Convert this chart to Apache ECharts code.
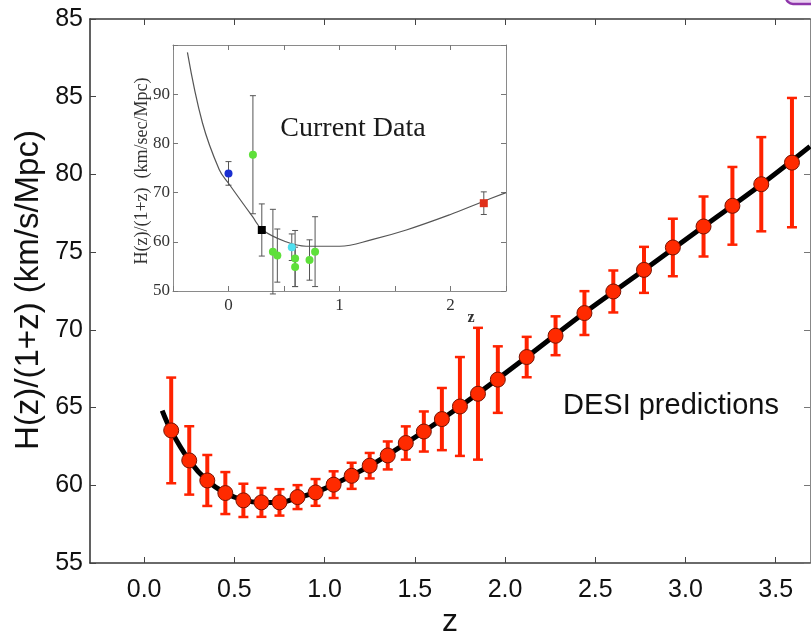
<!DOCTYPE html>
<html>
<head>
<meta charset="utf-8">
<script src="https://cdn.jsdelivr.net/npm/echarts@6.0.0/dist/echarts.min.js"></script>
<style>
html,body{margin:0;padding:0;background:#fff;}
#c{width:811px;height:639px;}
</style>
</head>
<body>
<div id="c"></div>
<script>
// ---- main panel: DESI predictions ----
const predZ = [0.15,0.25,0.35,0.45,0.55,0.65,0.75,0.85,0.95,1.05,1.15,1.25,1.35,1.45,1.55,1.65,1.75,1.85,1.96,2.12,2.28,2.44,2.60,2.77,2.93,3.10,3.26,3.42,3.59];
const predH = [63.53,61.6,60.31,59.5,59.03,58.9,58.9,59.24,59.54,60.04,60.61,61.26,61.92,62.72,63.46,64.26,65.07,65.89,66.8,68.25,69.62,71.08,72.47,73.86,75.3,76.65,77.98,79.37,80.76];
const predErr = [3.4,2.2,1.64,1.35,1.07,0.93,0.85,0.77,0.86,0.86,0.84,0.82,0.9,1.07,1.29,2.0,3.18,4.24,2.14,1.3,1.25,1.41,1.35,1.48,1.85,1.93,2.5,3.03,4.16];
const curveZ = [0.10,0.15,0.25,0.35,0.45,0.55,0.65,0.75,0.85,0.95,1.05,1.25,1.45,1.65,1.85,2.12,2.44,2.77,3.10,3.42,3.69];
const curveH = [64.8,63.5,61.6,60.3,59.5,59.05,58.9,58.9,59.2,59.55,60.05,61.25,62.7,64.25,65.9,68.25,71.1,73.85,76.65,79.35,81.8];
const xTickValues = [0,0.5,1,1.5,2,2.5,3,3.5];
const xTickLabels = ['0.0','0.5','1.0','1.5','2.0','2.5','3.0','3.5'];
const yTickValues = [55,60,65,70,75,80,85,90];
const yTickLabels = ['55','60','65','70','75','80','85','85'];

// ---- inset: Current Data ----
const blueZ = [0.0],  blueH = [73.9],  blueErr = [2.4];
const greenZ = [0.22,0.40,0.44,0.60,0.60,0.73,0.78];
const greenH = [77.7,58.0,57.2,56.6,54.9,56.3,58.0];
const greenErr = [12.0,8.6,5.4,5.7,4.0,4.1,7.1];
const cyanZ = [0.57], cyanH = [58.9], cyanErr = [2.7];
const blackZ = [0.30], blackH = [62.4], blackErr = [5.3];
const redZ = [2.30], redH = [67.85], redErr = [2.3];
const insetCurveZ = [-0.37,-0.235,-0.084,0.0,0.217,0.307,0.518,0.699,1.0,1.301,1.602,1.994,2.295,2.5];
const insetCurveH = [98.5,84.2,74.7,71.9,65.1,62.4,60.0,59.1,59.1,60.5,62.4,65.5,68.2,70.0];
const insetXTickValues = [-0.5,0,0.5,1,1.5,2,2.5];
const insetXTickLabels = ['','0','','1','','2',''];
const insetYTickValues = [50,60,70,80,90,100];
const insetYTickLabels = ['50','60','70','80','90',''];

const zip2 = (a,b) => a.map((v,i)=>[v,b[i]]);
const zip3 = (a,b,c) => a.map((v,i)=>[v,b[i],c[i]]);

function errRender(color, lw, capW, capLw){
  return function(params, api){
    const x = api.value(0), y = api.value(1), e = api.value(2);
    const t = api.coord([x, y + e]);
    const b = api.coord([x, y - e]);
    return {type:'group', children:[
      {type:'line', shape:{x1:t[0],y1:t[1],x2:b[0],y2:b[1]}, style:{stroke:color,lineWidth:lw}},
      {type:'line', shape:{x1:t[0]-capW/2,y1:t[1],x2:t[0]+capW/2,y2:t[1]}, style:{stroke:color,lineWidth:capLw}},
      {type:'line', shape:{x1:b[0]-capW/2,y1:b[1],x2:b[0]+capW/2,y2:b[1]}, style:{stroke:color,lineWidth:capLw}}
    ]};
  };
}

const chart = echarts.init(document.getElementById('c'), null, {renderer:'canvas'});
const sans = 'Liberation Sans, Arial, sans-serif';
const serif = 'Liberation Serif, Times New Roman, serif';
const mainLine = {show:true, onZero:false, lineStyle:{color:'#3a3a3a', width:1.6}};
const insetLine = {show:true, onZero:false, lineStyle:{color:'#8a8a8a', width:1}};

const option = {
  backgroundColor:'#ffffff',
  animation:false,
  grid:[
    {left:90, top:19, right:1, bottom:76},
    {left:173, top:45, width:333, height:246}
  ],
  xAxis:[
    {gridIndex:0, type:'value', min:-0.3, max:3.69, position:'bottom',
     axisLine:mainLine, splitLine:{show:false},
     axisTick:{show:true, inside:true, length:6, customValues:xTickValues, lineStyle:{color:'#444'}},
     axisLabel:{customValues:xTickValues, margin:15, fontSize:25, color:'#111', fontFamily:sans,
       formatter:(v)=>xTickLabels[xTickValues.indexOf(v)] ?? ''}},
    {gridIndex:0, type:'value', min:-0.3, max:3.69, position:'top',
     axisLine:mainLine, splitLine:{show:false},
     axisTick:{show:true, inside:true, length:6, customValues:xTickValues, lineStyle:{color:'#444'}},
     axisLabel:{show:false}},
    {gridIndex:1, type:'value', min:-0.5, max:2.5, interval:0.5, position:'bottom',
     axisLine:insetLine, splitLine:{show:false},
     axisTick:{show:true, inside:true, length:5, lineStyle:{color:'#777'}},
     axisLabel:{margin:6, fontSize:17, color:'#333', fontFamily:serif,
       formatter:(v)=>{const i = insetXTickValues.findIndex(t=>Math.abs(t-v)<1e-6); return i>=0 ? insetXTickLabels[i] : '';}}},
    {gridIndex:1, type:'value', min:-0.5, max:2.5, interval:0.5, position:'top',
     axisLine:insetLine, splitLine:{show:false},
     axisTick:{show:true, inside:true, length:5, lineStyle:{color:'#777'}},
     axisLabel:{show:false}}
  ],
  yAxis:[
    {gridIndex:0, type:'value', min:55, max:90, interval:5, position:'left',
     axisLine:mainLine, splitLine:{show:false},
     axisTick:{show:true, inside:true, length:6, lineStyle:{color:'#444'}},
     axisLabel:{margin:7, fontSize:25, color:'#111', fontFamily:sans,
       formatter:(v)=>{const i = yTickValues.indexOf(v); return i>=0 ? yTickLabels[i] : '';}}},
    {gridIndex:0, type:'value', min:55, max:90, interval:5, position:'right',
     axisLine:{show:true, onZero:false, lineStyle:{color:'#888', width:1}}, splitLine:{show:false},
     axisTick:{show:true, inside:true, length:6, lineStyle:{color:'#777'}},
     axisLabel:{show:false}},
    {gridIndex:1, type:'value', min:50, max:100, interval:10, position:'left',
     axisLine:insetLine, splitLine:{show:false},
     axisTick:{show:true, inside:true, length:5, lineStyle:{color:'#777'}},
     axisLabel:{margin:3, fontSize:17, color:'#333', fontFamily:serif,
       formatter:(v)=>{const i = insetYTickValues.indexOf(v); return i>=0 ? insetYTickLabels[i] : '';}}},
    {gridIndex:1, type:'value', min:50, max:100, interval:10, position:'right',
     axisLine:insetLine, splitLine:{show:false},
     axisTick:{show:true, inside:true, length:5, lineStyle:{color:'#777'}},
     axisLabel:{show:false}}
  ],
  graphic:[
    {type:'text', x:29, y:290, rotation:Math.PI/2, z:10,
     style:{text:'H(z)/(1+z) (km/s/Mpc)', fontSize:33, fontFamily:sans, fill:'#111', align:'center', verticalAlign:'middle'}},
    {type:'text', x:450, y:622, z:10,
     style:{text:'z', fontSize:32, fontFamily:sans, fill:'#111', align:'center', verticalAlign:'middle'}},
    {type:'text', x:563, y:406, z:10,
     style:{text:'DESI predictions', fontSize:29, fontFamily:sans, fill:'#111', align:'left', verticalAlign:'middle'}},
    {type:'text', x:353, y:129, z:10,
     style:{text:'Current Data', fontSize:28, fontFamily:serif, fill:'#1a1a1a', align:'center', verticalAlign:'middle'}},
    {type:'text', x:142, y:171, rotation:Math.PI/2, z:10,
     style:{text:'H(z)/(1+z)  (km/sec/Mpc)', fontSize:18, fontFamily:serif, fill:'#333', align:'center', verticalAlign:'middle'}},
    {type:'text', x:471, y:318, z:10,
     style:{text:'z', fontSize:16, fontWeight:'bold', fontFamily:serif, fill:'#333', align:'center', verticalAlign:'middle'}},
    {type:'rect', x:786, y:-12, z:10, shape:{width:40, height:16, r:7},
     style:{fill:'#e9d2f0', stroke:'#8e35aa', lineWidth:2.5}}
  ],
  series:[
    {type:'line', xAxisIndex:0, yAxisIndex:0, data:zip2(curveZ, curveH), smooth:0.35, showSymbol:false,
     lineStyle:{color:'#000', width:5}, z:2, clip:true},
    {type:'custom', xAxisIndex:0, yAxisIndex:0, data:zip3(predZ, predH, predErr), encode:{x:0,y:1},
     renderItem:errRender('#ff2200', 4, 10, 2.5), z:3},
    {type:'scatter', xAxisIndex:0, yAxisIndex:0, data:zip2(predZ, predH), symbol:'circle', symbolSize:15,
     itemStyle:{color:'#ff2a00', borderColor:'#7a1200', borderWidth:1, opacity:1}, z:4},

    {type:'line', xAxisIndex:2, yAxisIndex:2, data:zip2(insetCurveZ, insetCurveH), smooth:0.4, showSymbol:false,
     lineStyle:{color:'#555', width:1.2}, z:2},
    {type:'custom', xAxisIndex:2, yAxisIndex:2, data:zip3(blueZ, blueH, blueErr), encode:{x:0,y:1}, renderItem:errRender('#555', 1, 6, 1), z:3},
    {type:'custom', xAxisIndex:2, yAxisIndex:2, data:zip3(greenZ, greenH, greenErr), encode:{x:0,y:1}, renderItem:errRender('#555', 1, 6, 1), z:3},
    {type:'custom', xAxisIndex:2, yAxisIndex:2, data:zip3(cyanZ, cyanH, cyanErr), encode:{x:0,y:1}, renderItem:errRender('#555', 1, 6, 1), z:3},
    {type:'custom', xAxisIndex:2, yAxisIndex:2, data:zip3(blackZ, blackH, blackErr), encode:{x:0,y:1}, renderItem:errRender('#555', 1, 6, 1), z:3},
    {type:'custom', xAxisIndex:2, yAxisIndex:2, data:zip3(redZ, redH, redErr), encode:{x:0,y:1}, renderItem:errRender('#555', 1, 6, 1), z:3},
    {type:'scatter', xAxisIndex:2, yAxisIndex:2, data:zip2(blueZ, blueH), symbolSize:8, itemStyle:{color:'#1a2fd0', opacity:1}, z:4},
    {type:'scatter', xAxisIndex:2, yAxisIndex:2, data:zip2(greenZ, greenH), symbolSize:8, itemStyle:{color:'#5ee03a', opacity:1}, z:4},
    {type:'scatter', xAxisIndex:2, yAxisIndex:2, data:zip2(cyanZ, cyanH), symbolSize:8, itemStyle:{color:'#4fe0f0', opacity:1}, z:4},
    {type:'scatter', xAxisIndex:2, yAxisIndex:2, data:zip2(blackZ, blackH), symbol:'rect', symbolSize:8, itemStyle:{color:'#000', opacity:1}, z:4},
    {type:'scatter', xAxisIndex:2, yAxisIndex:2, data:zip2(redZ, redH), symbol:'rect', symbolSize:8, itemStyle:{color:'#e0301a', opacity:1}, z:4}
  ]
};
chart.setOption(option);
</script>
</body>
</html>
